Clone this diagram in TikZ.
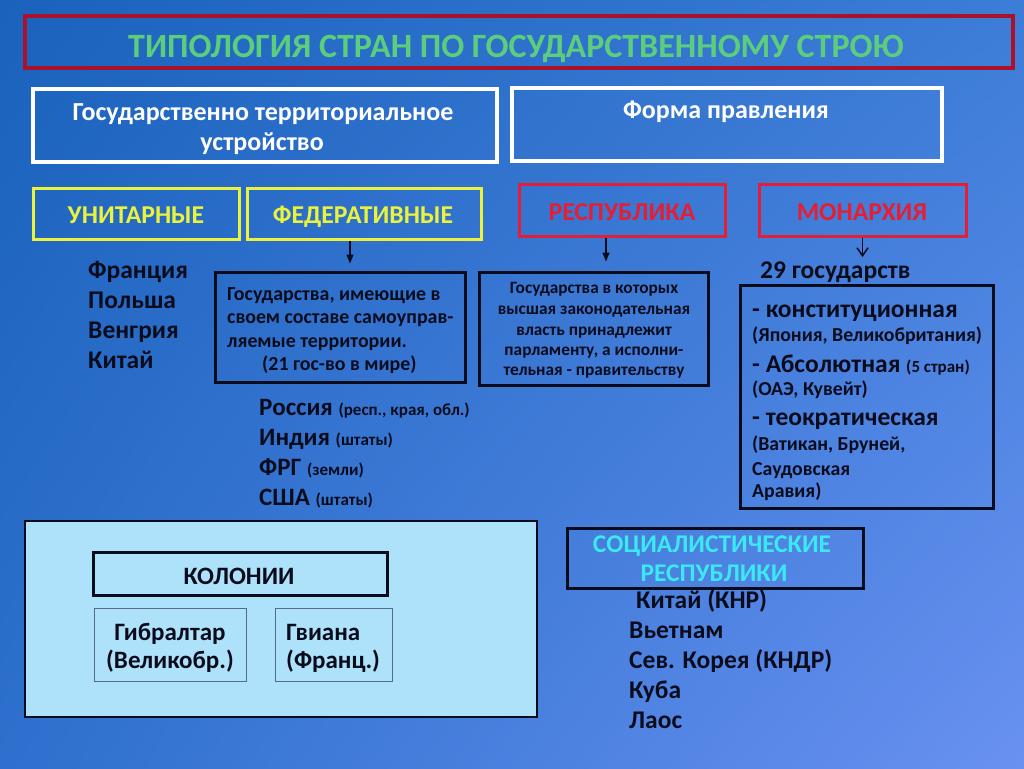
\documentclass[tikz,border=0pt]{standalone}
\usepackage{fontspec}
\setmainfont{Carlito}
\usetikzlibrary{arrows.meta,shadings}
\newcommand\myfs[1]{\fontsize{#1}{#1}\selectfont}
\definecolor{bgA}{RGB}{26,98,188}
\definecolor{bgB}{RGB}{60,125,215}
\definecolor{bgC}{RGB}{45,112,205}
\definecolor{bgD}{RGB}{105,145,242}
\definecolor{titleRed}{RGB}{170,18,42}
\definecolor{titleGreen}{RGB}{92,205,125}
\definecolor{yel}{RGB}{235,242,60}
\definecolor{redB}{RGB}{228,30,52}
\definecolor{ink}{RGB}{10,12,28}
\definecolor{panel}{RGB}{174,226,250}
\definecolor{thinB}{RGB}{80,110,140}
\definecolor{cyanT}{RGB}{60,232,242}
\tikzset{
  box/.style={draw, inner sep=0pt, rectangle},
  whitebox/.style={box, draw=white, line width=4pt},
  yelbox/.style={box, draw=yel, line width=3pt},
  redbox/.style={box, draw=redB, line width=3pt},
  inkbox/.style={box, draw=ink, line width=3pt},
  thinbox/.style={box, draw=thinB, line width=0.8pt},
  t/.style={inner sep=0pt, text=ink, font=\bfseries},
  tw/.style={inner sep=0pt, text=white, font=\bfseries\myfs{26}},
  cat/.style={inner sep=0pt, anchor=base, font=\bfseries\myfs{25.7}},
  big/.style={t, anchor=base west, font=\bfseries\myfs{25.5}},
  arr/.style={draw=ink, line width=1.5pt, -{Triangle[length=9pt,width=7pt]}},
  oarr/.style={draw=ink, line width=1.5pt, -{Straight Barb[length=8pt,width=11pt,line width=1.5pt]}}
}
\begin{document}
\begin{tikzpicture}[x=1pt,y=-1pt]
\useasboundingbox (0,0) rectangle (1024,768);
\shade[upper left=bgA, upper right=bgB, lower left=bgC, lower right=bgD] (0,0) rectangle (1024,768);

% title
\node[box, draw=titleRed, line width=4pt, minimum width=988pt, minimum height=52pt] (title) at (519,42) {};
\node[inner sep=0pt, anchor=base, text=titleGreen, font=\bfseries\myfs{34}] (titletxt) at (516,57) {ТИПОЛОГИЯ СТРАН ПО ГОСУДАРСТВЕННОМУ СТРОЮ};

% white boxes
\node[whitebox, minimum width=464pt, minimum height=73pt] (gt) at (265,125) {};
\node[tw, anchor=base] (gt1) at (263,120) {Государственно территориальное};
\node[tw, anchor=base] (gt2) at (262,150) {устройство};
\node[whitebox, minimum width=430pt, minimum height=73pt] (fp) at (727,124) {};
\node[tw, anchor=base] (fp1) at (726,118) {Форма правления};

% category boxes
\node[yelbox, minimum width=206pt, minimum height=51pt] (un) at (136,213.5) {};
\node[cat, text=yel] (untxt) at (136,223) {УНИТАРНЫЕ};
\node[yelbox, minimum width=234pt, minimum height=51pt] (fed) at (364,213.5) {};
\node[cat, text=yel] (fedtxt) at (363,223) {ФЕДЕРАТИВНЫЕ};
\node[redbox, minimum width=206pt, minimum height=52pt] (rep) at (622,210) {};
\node[cat, text=redB] (reptxt) at (622,220) {РЕСПУБЛИКА};
\node[redbox, minimum width=207pt, minimum height=52pt] (mon) at (862.5,210) {};
\node[cat, text=redB] (montxt) at (862,220) {МОНАРХИЯ};

% unitary list
\node[big] (u1) at (88,278) {Франция};
\node[big] (u2) at (88,308) {Польша};
\node[big] (u3) at (88,338) {Венгрия};
\node[big] (u4) at (88,368) {Китай};

% federative description
\node[inkbox, minimum width=250pt, minimum height=110pt] (fd) at (340,327) {};
\node[t, anchor=base west, font=\bfseries\myfs{19.9}] (fd1) at (227,300) {Государства, имеющие в};
\node[t, anchor=base west, font=\bfseries\myfs{19.9}] (fd2) at (227,323) {своем составе самоуправ-};
\node[t, anchor=base west, font=\bfseries\myfs{19.9}] (fd3) at (227,347) {ляемые территории.};
\node[t, anchor=base west, font=\bfseries\myfs{19.9}] (fd4) at (262,370) {(21 гос-во в мире)};
\draw[arr, shorten >=7pt] ([xshift=-14pt]fed.south) -- ([xshift=10pt]fd.north);

% federative list
\node[t, anchor=base west] (f1) at (259,415) {\myfs{25}Россия \myfs{17}(респ., края, обл.)};
\node[t, anchor=base west] (f2) at (259,445) {\myfs{25}Индия \myfs{17}(штаты)};
\node[t, anchor=base west] (f3) at (259,475) {\myfs{25}ФРГ \myfs{17}(земли)};
\node[t, anchor=base west] (f4) at (259,505) {\myfs{25}США \myfs{17}(штаты)};

% republic description
\node[inkbox, minimum width=229pt, minimum height=113pt] (rd) at (593.5,328.5) {};
\node[t, anchor=base, font=\bfseries\myfs{17.3}] (rd1) at (594,293) {Государства в которых};
\node[t, anchor=base, font=\bfseries\myfs{17.3}] (rd2) at (594,314) {высшая законодательная};
\node[t, anchor=base, font=\bfseries\myfs{17.3}] (rd3) at (594,335) {власть принадлежит};
\node[t, anchor=base, font=\bfseries\myfs{17.3}] (rd4) at (594,355) {парламенту, а исполни-};
\node[t, anchor=base, font=\bfseries\myfs{17.3}] (rd5) at (594,375) {тельная - правительству};
\draw[arr, shorten >=9pt] ([xshift=-16pt]rep.south) -- ([xshift=12.5pt]rd.north);

% monarchy
\node[big] (m29) at (760,278) {29 государств};
\draw[oarr, shorten >=4pt] (mon.south) -- (mon.south |- m29.north);
\node[inkbox, minimum width=253pt, minimum height=223pt] (md) at (866.5,396.5) {};
\node[big] (md1) at (752,317) {- конституционная};
\node[t, anchor=base west, font=\bfseries\myfs{19.8}] (md2) at (752,341) {(Япония, Великобритания)};
\node[t, anchor=base west] (md3) at (752,372) {\myfs{25.5}- Абсолютная \myfs{17}(5 стран)};
\node[t, anchor=base west, font=\bfseries\myfs{19.8}] (md4) at (752,395) {(ОАЭ, Кувейт)};
\node[big] (md5) at (752,425) {- теократическая};
\node[t, anchor=base west, font=\bfseries\myfs{19.8}] (md6) at (752,450) {(Ватикан, Бруней,};
\node[t, anchor=base west, font=\bfseries\myfs{19.8}] (md7) at (752,475) {Саудовская};
\node[t, anchor=base west, font=\bfseries\myfs{19.8}] (md8) at (752,497) {Аравия)};

% colonies
\node[box, draw=ink, fill=panel, line width=2pt, minimum width=512pt, minimum height=196pt] (cp) at (281,619) {};
\node[inkbox, minimum width=294pt, minimum height=43pt] (col) at (240,573.5) {};
\node[t, anchor=base, font=\bfseries\myfs{25}] (coltxt) at (239,584) {КОЛОНИИ};
\node[thinbox, minimum width=152pt, minimum height=73pt] (gib) at (170,644.5) {};
\node[t, anchor=base, font=\bfseries\myfs{25}] (gib1) at (170,640) {Гибралтар};
\node[t, anchor=base, font=\bfseries\myfs{25}] (gib2) at (170,668) {(Великобр.)};
\node[thinbox, minimum width=117pt, minimum height=73pt] (gv) at (333.5,644.5) {};
\node[t, anchor=base west, font=\bfseries\myfs{25}] (gv1) at (286,640) {Гвиана};
\node[t, anchor=base west, font=\bfseries\myfs{25}] (gv2) at (286,668) {(Франц.)};

% socialist republics
\node[inkbox, minimum width=296pt, minimum height=60pt] (soc) at (715,558) {};
\node[inner sep=0pt, anchor=base, text=cyanT, font=\bfseries\myfs{25.5}] (soc1) at (712,552) {СОЦИАЛИСТИЧЕСКИЕ};
\node[inner sep=0pt, anchor=base, text=cyanT, font=\bfseries\myfs{25.5}] (soc2) at (714,581) {РЕСПУБЛИКИ};
\node[big] (s1) at (636,608) {Китай (КНР)};
\node[big] (s2) at (629,638) {Вьетнам};
\node[big] (s3) at (629,668) {Сев. Корея (КНДР)};
\node[big] (s4) at (629,698) {Куба};
\node[big] (s5) at (629,728) {Лаос};
\end{tikzpicture}
\end{document}
